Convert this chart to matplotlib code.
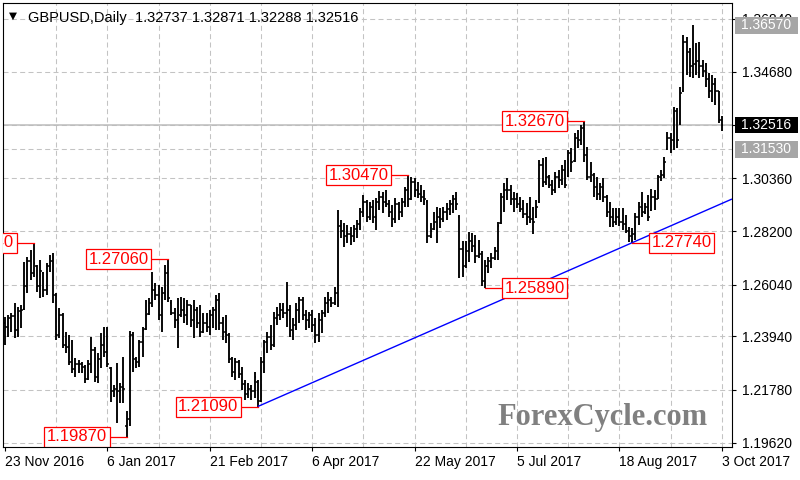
import numpy as np
import pandas as pd
import matplotlib
matplotlib.use("Agg")
import matplotlib.pyplot as plt
from matplotlib.patches import Rectangle
from matplotlib.transforms import blended_transform_factory

plt.rcParams['font.family'] = ['Liberation Sans', 'DejaVu Sans']
plt.rcParams['lines.scale_dashes'] = False

symbol = "GBPUSD,Daily"
dates = pd.bdate_range("2016-11-23", periods=225)

# daily bars
highs = [
    1.2474, 1.2481, 1.2489, 1.2529, 1.2515, 1.2521, 1.2697, 1.2717, 1.2744, 1.2774,
    1.2683, 1.2704, 1.2656, 1.2692, 1.2724, 1.2731, 1.2569, 1.2508, 1.2487, 1.2413,
    1.2399, 1.2379, 1.2305, 1.2298, 1.2291, 1.2278, 1.2298, 1.2392, 1.2352, 1.2325,
    1.2406, 1.2433, 1.2433, 1.2271, 1.2196, 1.2284, 1.2203, 1.2311, 1.2090, 1.2417,
    1.2412, 1.2311, 1.2379, 1.2433, 1.2541, 1.2548, 1.2656, 1.2609, 1.2602, 1.2595,
    1.2683, 1.2706, 1.2541, 1.2508, 1.2548, 1.2555, 1.2548, 1.2541, 1.2521, 1.2541,
    1.2514, 1.2521, 1.2487, 1.2487, 1.2501, 1.2514, 1.2562, 1.2569, 1.2474, 1.2481,
    1.2406, 1.2311, 1.2305, 1.2298, 1.2270, 1.2217, 1.2203, 1.2196, 1.2250, 1.2217,
    1.2311, 1.2379, 1.2413, 1.2440, 1.2494, 1.2514, 1.2528, 1.2528, 1.2616, 1.2521,
    1.2467, 1.2528, 1.2555, 1.2555, 1.2501, 1.2494, 1.2501, 1.2467, 1.2487, 1.2501,
    1.2555, 1.2575, 1.2555, 1.2595, 1.2907, 1.2866, 1.2853, 1.2846, 1.2839, 1.2846,
    1.2866, 1.2914, 1.2968, 1.2947, 1.2940, 1.2947, 1.2954, 1.2985, 1.2981, 1.2988,
    1.2947, 1.2927, 1.2954, 1.2940, 1.2954, 1.3001, 1.3047, 1.3042, 1.3035, 1.3022,
    1.3008, 1.2988, 1.2947, 1.2853, 1.2900, 1.2920, 1.2914, 1.2920, 1.2934, 1.2947,
    1.2968, 1.2981, 1.2887, 1.2780, 1.2780, 1.2819, 1.2812, 1.2805, 1.2785, 1.2740,
    1.2704, 1.2717, 1.2731, 1.2758, 1.2859, 1.2975, 1.3015, 1.3035, 1.3008, 1.2981,
    1.2975, 1.2961, 1.2947, 1.2934, 1.2961, 1.2920, 1.2947, 1.3109, 1.3116, 1.3123,
    1.3049, 1.3028, 1.3062, 1.3069, 1.3089, 1.3109, 1.3150, 1.3157, 1.3218, 1.3232,
    1.3252, 1.3267, 1.3164, 1.3103, 1.3055, 1.3042, 1.3015, 1.3035, 1.2968, 1.2940,
    1.2914, 1.2914, 1.2914, 1.2914, 1.2886, 1.2839, 1.2832, 1.2893, 1.2940, 1.2981,
    1.2937, 1.2968, 1.2992, 1.2988, 1.3049, 1.3069, 1.3123, 1.3225, 1.3218, 1.3326,
    1.3320, 1.3407, 1.3617, 1.3610, 1.3563, 1.3657, 1.3584, 1.3590, 1.3516, 1.3503,
    1.3462, 1.3455, 1.3442, 1.3390, 1.32871]

lows = [
    1.2359, 1.2392, 1.2413, 1.2387, 1.2390, 1.2428, 1.2501, 1.2569, 1.2622, 1.2636,
    1.2575, 1.2548, 1.2555, 1.2562, 1.2656, 1.2528, 1.2379, 1.2386, 1.2345, 1.2325,
    1.2277, 1.2244, 1.2230, 1.2244, 1.2244, 1.2203, 1.2217, 1.2244, 1.2210, 1.2203,
    1.2264, 1.2311, 1.2271, 1.2128, 1.2149, 1.2040, 1.2122, 1.2122, 1.1987, 1.2030,
    1.2250, 1.2264, 1.2271, 1.2311, 1.2420, 1.2480, 1.2514, 1.2541, 1.2460, 1.2413,
    1.2541, 1.2534, 1.2480, 1.2426, 1.2345, 1.2474, 1.2447, 1.2440, 1.2433, 1.2386,
    1.2426, 1.2392, 1.2406, 1.2413, 1.2399, 1.2426, 1.2420, 1.2420, 1.2379, 1.2365,
    1.2284, 1.2230, 1.2217, 1.2223, 1.2176, 1.2135, 1.2142, 1.2135, 1.2142, 1.2109,
    1.2128, 1.2244, 1.2325, 1.2338, 1.2352, 1.2440, 1.2460, 1.2467, 1.2433, 1.2392,
    1.2379, 1.2420, 1.2447, 1.2460, 1.2420, 1.2426, 1.2413, 1.2365, 1.2372, 1.2406,
    1.2474, 1.2487, 1.2514, 1.2521, 1.2514, 1.2792, 1.2758, 1.2772, 1.2765, 1.2778,
    1.2792, 1.2826, 1.2880, 1.2859, 1.2866, 1.2853, 1.2826, 1.2907, 1.2893, 1.2920,
    1.2880, 1.2839, 1.2853, 1.2866, 1.2880, 1.2920, 1.2920, 1.2947, 1.2961, 1.2954,
    1.2940, 1.2927, 1.2771, 1.2792, 1.2826, 1.2771, 1.2832, 1.2859, 1.2866, 1.2886,
    1.2893, 1.2907, 1.2629, 1.2636, 1.2670, 1.2697, 1.2738, 1.2690, 1.2710, 1.2600,
    1.2589, 1.2650, 1.2670, 1.2704, 1.2704, 1.2850, 1.2900, 1.2947, 1.2927, 1.2900,
    1.2914, 1.2900, 1.2873, 1.2846, 1.2853, 1.2808, 1.2873, 1.2934, 1.3001, 1.3008,
    1.2995, 1.2967, 1.2974, 1.2995, 1.3008, 1.2995, 1.3042, 1.3062, 1.3103, 1.3157,
    1.3171, 1.3103, 1.3030, 1.3022, 1.2961, 1.2947, 1.2947, 1.2940, 1.2880, 1.2839,
    1.2839, 1.2846, 1.2842, 1.2826, 1.2812, 1.2778, 1.2774, 1.2785, 1.2846, 1.2880,
    1.2890, 1.2863, 1.2903, 1.2907, 1.2950, 1.3025, 1.3035, 1.3150, 1.3140, 1.3150,
    1.3157, 1.3252, 1.3387, 1.3455, 1.3448, 1.3442, 1.3455, 1.3442, 1.3448, 1.3407,
    1.3360, 1.3346, 1.3333, 1.3258, 1.32288]

opens = [
    1.2450, 1.2430, 1.2470, 1.2475, 1.2420, 1.2495, 1.2505, 1.2600, 1.2700, 1.2650,
    1.2680, 1.2600, 1.2650, 1.2580, 1.2680, 1.2700, 1.2560, 1.2400, 1.2480, 1.2360,
    1.2350, 1.2290, 1.2260, 1.2280, 1.2280, 1.2270, 1.2220, 1.2280, 1.2340, 1.2230,
    1.2300, 1.2360, 1.2330, 1.2265, 1.2170, 1.2180, 1.2170, 1.2190, 1.2030, 1.2060,
    1.2400, 1.2300, 1.2290, 1.2370, 1.2425, 1.2485, 1.2530, 1.2580, 1.2560, 1.2480,
    1.2570, 1.2650, 1.2530, 1.2490, 1.2460, 1.2480, 1.2500, 1.2480, 1.2520, 1.2460,
    1.2500, 1.2450, 1.2410, 1.2450, 1.2430, 1.2480, 1.2500, 1.2540, 1.2450, 1.2410,
    1.2400, 1.2300, 1.2250, 1.2290, 1.2240, 1.2200, 1.2160, 1.2180, 1.2170, 1.2210,
    1.2130, 1.2290, 1.2370, 1.2390, 1.2360, 1.2470, 1.2480, 1.2500, 1.2490, 1.2500,
    1.2420, 1.2440, 1.2500, 1.2540, 1.2480, 1.2460, 1.2480, 1.2440, 1.2400, 1.2460,
    1.2490, 1.2530, 1.2540, 1.2530, 1.2570, 1.2840, 1.2820, 1.2800, 1.2810, 1.2800,
    1.2830, 1.2850, 1.2900, 1.2940, 1.2880, 1.2920, 1.2880, 1.2940, 1.2960, 1.2940,
    1.2930, 1.2900, 1.2870, 1.2930, 1.2900, 1.2940, 1.2990, 1.2950, 1.3020, 1.2990,
    1.2970, 1.2960, 1.2940, 1.2800, 1.2830, 1.2860, 1.2880, 1.2870, 1.2900, 1.2910,
    1.2930, 1.2950, 1.2880, 1.2750, 1.2680, 1.2740, 1.2780, 1.2760, 1.2720, 1.2730,
    1.2620, 1.2680, 1.2700, 1.2710, 1.2740, 1.2855, 1.2960, 1.2990, 1.2990, 1.2950,
    1.2950, 1.2930, 1.2910, 1.2890, 1.2880, 1.2870, 1.2880, 1.2940, 1.3090, 1.3020,
    1.3040, 1.3010, 1.2990, 1.3040, 1.3030, 1.3070, 1.3045, 1.3140, 1.3105, 1.3200,
    1.3190, 1.3240, 1.3130, 1.3040, 1.3050, 1.3000, 1.2970, 1.3000, 1.2960, 1.2900,
    1.2880, 1.2860, 1.2880, 1.2860, 1.2850, 1.2820, 1.2800, 1.2810, 1.2880, 1.2920,
    1.2900, 1.2920, 1.2905, 1.2960, 1.2950, 1.3040, 1.3050, 1.3155, 1.3200, 1.3190,
    1.3310, 1.3260, 1.3390, 1.3590, 1.3550, 1.3490, 1.3500, 1.3510, 1.3490, 1.3470,
    1.3440, 1.3390, 1.3420, 1.3390, 1.32737]

closes = [
    1.2430, 1.2470, 1.2475, 1.2420, 1.2495, 1.2500, 1.2600, 1.2700, 1.2650, 1.2690,
    1.2600, 1.2660, 1.2580, 1.2680, 1.2700, 1.2560, 1.2400, 1.2480, 1.2360, 1.2350,
    1.2290, 1.2260, 1.2280, 1.2280, 1.2270, 1.2220, 1.2280, 1.2340, 1.2230, 1.2300,
    1.2360, 1.2330, 1.2280, 1.2170, 1.2180, 1.2170, 1.2190, 1.2180, 1.2060, 1.2400,
    1.2300, 1.2290, 1.2370, 1.2420, 1.2480, 1.2530, 1.2580, 1.2560, 1.2480, 1.2570,
    1.2650, 1.2550, 1.2490, 1.2460, 1.2450, 1.2500, 1.2480, 1.2520, 1.2460, 1.2500,
    1.2450, 1.2410, 1.2450, 1.2430, 1.2480, 1.2500, 1.2540, 1.2450, 1.2410, 1.2400,
    1.2300, 1.2250, 1.2290, 1.2240, 1.2200, 1.2160, 1.2180, 1.2170, 1.2230, 1.2130,
    1.2290, 1.2370, 1.2390, 1.2360, 1.2470, 1.2480, 1.2500, 1.2490, 1.2500, 1.2420,
    1.2440, 1.2500, 1.2540, 1.2480, 1.2460, 1.2480, 1.2440, 1.2400, 1.2460, 1.2490,
    1.2530, 1.2540, 1.2530, 1.2570, 1.2840, 1.2820, 1.2800, 1.2810, 1.2800, 1.2830,
    1.2850, 1.2900, 1.2940, 1.2880, 1.2920, 1.2880, 1.2940, 1.2960, 1.2940, 1.2930,
    1.2900, 1.2870, 1.2930, 1.2900, 1.2940, 1.2990, 1.2950, 1.3020, 1.2990, 1.2970,
    1.2960, 1.2950, 1.2800, 1.2820, 1.2860, 1.2880, 1.2870, 1.2900, 1.2910, 1.2930,
    1.2950, 1.2930, 1.2750, 1.2680, 1.2740, 1.2780, 1.2760, 1.2720, 1.2730, 1.2620,
    1.2680, 1.2700, 1.2710, 1.2740, 1.2840, 1.2960, 1.2990, 1.2990, 1.2950, 1.2950,
    1.2930, 1.2910, 1.2890, 1.2880, 1.2870, 1.2860, 1.2920, 1.3090, 1.3020, 1.3040,
    1.3010, 1.2990, 1.3040, 1.3030, 1.3070, 1.3010, 1.3140, 1.3100, 1.3200, 1.3190,
    1.3240, 1.3130, 1.3040, 1.3060, 1.3000, 1.2970, 1.3000, 1.2960, 1.2900, 1.2880,
    1.2860, 1.2880, 1.2860, 1.2850, 1.2820, 1.2800, 1.2810, 1.2880, 1.2920, 1.2900,
    1.2920, 1.2880, 1.2960, 1.2950, 1.3040, 1.3050, 1.3100, 1.3200, 1.3190, 1.3310,
    1.3190, 1.3380, 1.3590, 1.3550, 1.3490, 1.3500, 1.3510, 1.3490, 1.3470, 1.3440,
    1.3390, 1.3420, 1.3390, 1.32737, 1.32516]

price_ticks = [1.1962, 1.2178, 1.2394, 1.2604, 1.2820, 1.3036, 1.3252, 1.3468, 1.3684]

# swing high/low labels: date, level, side of the bar
swings = [
    ("2016-12-06", 1.2774, "left"),
    ("2017-01-16", 1.1987, "left"),
    ("2017-02-02", 1.2706, "left"),
    ("2017-03-14", 1.2109, "left"),
    ("2017-05-18", 1.3047, "left"),
    ("2017-06-21", 1.2589, "right"),
    ("2017-08-03", 1.3267, "left"),
    ("2017-08-24", 1.2774, "right"),
]

trend_a = ("2017-03-14", 1.2109)
trend_b = ("2017-08-24", 1.2774)

marked_levels = [1.3657, 1.3153]
bid = closes[-1]

grid_c = "#c3c3c3"
ymin, ymax = 1.19458, 1.37460
xmin, xmax = -0.53, 227.2

fig = plt.figure(figsize=(8, 4.8), dpi=100)
ax = fig.add_axes([3.3 / 800, (480 - 446.7) / 480, (732 - 3.3) / 800, (446.7 - 3.3) / 480])
ax.set_xlim(xmin, xmax)
ax.set_ylim(ymin, ymax)

x = np.arange(len(dates))

for p in price_ticks + [marked_levels[1]]:
    ax.axhline(p, color=grid_c, lw=0.75, dashes=(3.6, 2.4), zorder=0)
for i in range(16, len(dates), 16):
    ax.axvline(i, color=grid_c, lw=0.75, dashes=(3.6, 2.4), zorder=0)

ax.axhline(bid, color="#bcbcbc", lw=1.1, zorder=1)

# OHLC bars
ax.vlines(x, lows, highs, color="black", lw=1.35, zorder=3)
ax.hlines(opens, x - 0.5, x, color="black", lw=1.1, zorder=3)
ax.hlines(closes, x, x + 0.5, color="black", lw=1.1, zorder=3)

# trendline ray
ia = dates.get_loc(pd.Timestamp(trend_a[0]))
ib = dates.get_loc(pd.Timestamp(trend_b[0]))
slope = (trend_b[1] - trend_a[1]) / (ib - ia)
ax.plot([ia, xmax], [trend_a[1], trend_a[1] + slope * (xmax - ia)],
        color="#0000ff", lw=1.0, zorder=4, solid_capstyle="butt")

# swing labels
for d, level, side in swings:
    i = dates.get_loc(pd.Timestamp(d))
    off = 6.1
    xl = i - off if side == "left" else i + off
    ax.plot([i, xl], [level, level], color="red", lw=0.9, zorder=4)
    ax.text(xl, level, f"{level:.5f}", ha="right" if side == "left" else "left",
            va="center", color="red", fontsize=12, zorder=5, clip_on=True,
            bbox=dict(boxstyle="square,pad=0.15", fc="white", ec="red", lw=0.9))

for s in ax.spines.values():
    s.set_linewidth(0.8)
    s.set_color("black")

# the 1.32520 tick label sits under the bid box, so it is left blank
ax.yaxis.tick_right()
ax.set_yticks(price_ticks)
ax.set_yticklabels(["" if p == 1.3252 else f"{p:.5f}" for p in price_ticks])
ax.tick_params(axis="y", direction="out", length=3, width=0.8, pad=4.5, labelsize=10)

tick_idx = list(range(0, len(dates), 32))
ax.set_xticks(tick_idx)
ax.set_xticklabels([f"{dates[i].day} {dates[i]:%b %Y}" for i in tick_idx], ha="left")
ax.tick_params(axis="x", direction="out", length=3, width=0.8, pad=3, labelsize=10)

# price boxes on the right scale
trans = blended_transform_factory(ax.transAxes, ax.transData)
px_w = 732 - 3.3
box_h = 16.6 * (ymax - ymin) / 443.4
for level, fc in [(marked_levels[0], "#a6a6a6"), (bid, "black"), (marked_levels[1], "#a6a6a6")]:
    ax.add_patch(Rectangle(((735 - 3.3) / px_w, level - box_h / 2), 63 / px_w, box_h,
                           transform=trans, fc=fc, ec="none", clip_on=False, zorder=6))
    ax.text((741 - 3.3) / px_w, level, f"{level:.5f}", transform=trans, color="white",
            fontsize=10, ha="left", va="center", clip_on=False, zorder=7)

# header
fig.text(9 / 800, (480 - 19) / 480, "\u25bc", fontsize=7.5, family="DejaVu Sans", color="black")
title = f"{symbol}  {opens[-1]:.5f} {highs[-1]:.5f} {lows[-1]:.5f} {closes[-1]:.5f}"
fig.text(28 / 800, (480 - 21.7) / 480, title, fontsize=10.5, color="black", va="baseline")

fig.text(497 / 800, (480 - 425) / 480, "ForexCycle.com", fontsize=22, family="Liberation Serif",
         weight="bold", color="#808080", va="baseline")

fig.savefig("out.png", dpi=100)
